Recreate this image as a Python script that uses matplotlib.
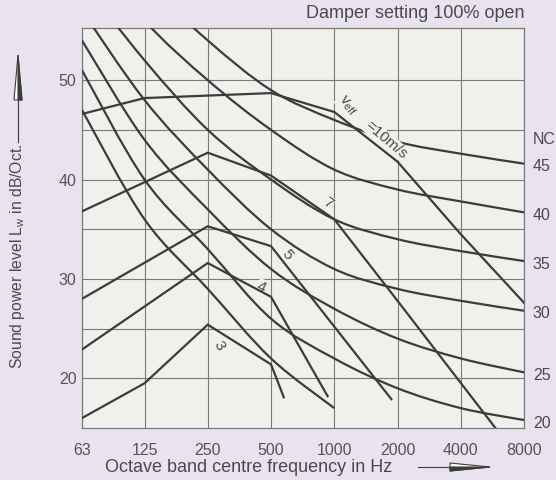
import numpy as np
import matplotlib
matplotlib.use('Agg')
import matplotlib.pyplot as plt
from matplotlib.path import Path
from matplotlib.patches import PathPatch, Polygon
from matplotlib.lines import Line2D
from matplotlib.ticker import NullLocator

# octave bands
freqs = [63, 125, 250, 500, 1000, 2000, 4000, 8000]
freq_labels = ['63', '125', '250', '500', '1000', '2000', '4000', '8000']

# NC curves (dB per octave band), NC 15 stops at 1000 Hz
nc_names = [15, 20, 25, 30, 35, 40, 45]
nc15 = [47, 36, 29, 22, 17]
nc20 = [51, 40, 33, 26, 22, 19, 17, 15.8]
nc25 = [54, 44, 37, 31, 27, 24, 22, 20.6]
nc30 = [57, 48, 41, 35, 31, 29, 27.8, 26.8]
nc35 = [60, 52, 45, 40, 36, 34, 32.8, 31.8]
nc40 = [64, 56, 50, 45, 41, 39, 37.8, 36.7]
nc45 = [67, 60, 54, 49, 46, 43.8, 42.6, 41.6]

# sound power lines for v_eff = 3, 4, 5, 7, 10 m/s
v3_f = [63, 125, 250, 500, 575]
v3_db = [16.0, 19.5, 25.4, 21.4, 18.1]
v4_f = [63, 250, 500, 930]
v4_db = [22.9, 31.6, 28.2, 18.2]
v5_f = [63, 250, 500, 1870]
v5_db = [28.0, 35.3, 33.3, 17.9]
v7_f = [63, 250, 500, 1000, 2000, 5850]
v7_db = [36.8, 42.7, 40.4, 36.0, 27.8, 15.0]
v10_f = [63, 125, 500, 1000, 2000, 4000, 8000]
v10_db = [46.6, 48.2, 48.7, 46.8, 41.8, 34.5, 27.6]

line_col = '#3c3c3c'
grid_col = '#7a7a7a'
text_col = '#4a4a4a'
fig_bg = '#e8e3ef'
ax_bg = '#f0f0ec'

plt.rcParams['font.family'] = ['Liberation Sans', 'DejaVu Sans']


def smooth_curve(f, db):
    # cubic bezier through the read points (catmull-rom in log f)
    u = np.log2(np.asarray(f, float))
    v = np.asarray(db, float)
    pts = np.column_stack([u, v])
    verts = [pts[0]]
    codes = [Path.MOVETO]
    n = len(pts)
    for i in range(n - 1):
        p0 = pts[max(i - 1, 0)]
        p1 = pts[i]
        p2 = pts[i + 1]
        p3 = pts[min(i + 2, n - 1)]
        verts += [p1 + (p2 - p0) / 6, p2 - (p3 - p1) / 6, p2]
        codes += [Path.CURVE4] * 3
    verts = np.array(verts)
    verts[:, 0] = 2 ** verts[:, 0]
    return Path(verts, codes)


fig = plt.figure(figsize=(5.56, 4.8), dpi=100, facecolor=fig_bg)
ax = fig.add_axes([82 / 556, 52 / 480, 442 / 556, 400 / 480])
ax.set_facecolor(ax_bg)

ax.set_xscale('log', base=2)
ax.set_xlim(63, 8000)
ax.set_ylim(15, 55.25)
ax.set_xticks(freqs)
ax.set_xticklabels(freq_labels)
ax.xaxis.set_minor_locator(NullLocator())
ax.set_yticks([20, 30, 40, 50])
ax.set_yticks([25, 35, 45], minor=True)
ax.grid(which='both', color=grid_col, lw=0.8, zorder=1)
ax.set_axisbelow(True)
ax.tick_params(which='both', length=0, labelsize=11.5, colors='#555555')
ax.tick_params(axis='x', pad=11)
ax.tick_params(axis='y', pad=4)
for s in ax.spines.values():
    s.set_color(grid_col)
    s.set_linewidth(0.9)

# NC curves
nc_curves = [nc15, nc20, nc25, nc30, nc35, nc40, nc45]
for name, vals in zip(nc_names, nc_curves):
    p = PathPatch(smooth_curve(freqs[:len(vals)], vals), fill=False,
                  edgecolor=line_col, lw=1.6, zorder=3)
    ax.add_patch(p)
    if name >= 20:
        ax.text(1.02, vals[-1] - 0.3, str(name), transform=ax.get_yaxis_transform(),
                ha='left', va='center', fontsize=11.5, color=text_col, clip_on=False)
ax.text(1.02, 44.0, 'NC', transform=ax.get_yaxis_transform(), ha='left',
        va='center', fontsize=11.5, color=text_col, clip_on=False)

# velocity lines
for f, db in [(v3_f, v3_db), (v4_f, v4_db), (v5_f, v5_db), (v7_f, v7_db), (v10_f, v10_db)]:
    ax.plot(f, db, color=line_col, lw=1.6, zorder=5, solid_joinstyle='miter')

lab = dict(color=text_col, ha='center', va='center', zorder=4,
           bbox=dict(facecolor=ax_bg, edgecolor='none', pad=0.5))
ax.text(283, 23.3, '3', fontsize=11, rotation=-60, **lab)
ax.text(451, 29.2, '4', fontsize=11, rotation=-25, **lab)
ax.text(597, 32.4, '5', fontsize=11, rotation=-50, **lab)
ax.text(933, 37.6, '7', fontsize=11, rotation=-35, **lab)
ax.text(1150, 47.4, r'$\mathregular{v_{eff}}$', fontsize=11, rotation=-50, **lab)
ax.text(1760, 44.0, '=10m/s', fontsize=11, rotation=-40, **lab)

# titles / axis labels
fig.text(525 / 556, 1 - 13 / 480, 'Damper setting 100% open', ha='right', va='center',
         fontsize=13, color=text_col)
fig.text(249 / 556, 1 - 467 / 480, 'Octave band centre frequency in Hz', ha='center',
         va='center', fontsize=13, color=text_col)
fig.text(18 / 556, 1 - 256 / 480, r'Sound power level L$\mathregular{_w}$ in dB/Oct.',
         rotation=90, ha='center', va='center', fontsize=11.3, color=text_col)

# arrows next to the axis labels (figure pixels -> fraction)
W, H = 556.0, 480.0
def fx(x):
    return x / W
def fy(y):
    return 1 - y / H

fig.add_artist(Line2D([fx(18), fx(18)], [fy(142), fy(98)], color=line_col, lw=0.8))
fig.add_artist(Polygon([(fx(14), fy(100)), (fx(18), fy(55)), (fx(22), fy(100))],
                       closed=True, facecolor='white', edgecolor=line_col, lw=0.8))
fig.add_artist(Polygon([(fx(18), fy(100)), (fx(18), fy(55)), (fx(22), fy(100))],
                       closed=True, facecolor=line_col, edgecolor=line_col, lw=0.8))

fig.add_artist(Line2D([fx(418), fx(452)], [fy(467), fy(467)], color=line_col, lw=0.8))
fig.add_artist(Polygon([(fx(450), fy(463)), (fx(490), fy(467)), (fx(450), fy(471))],
                       closed=True, facecolor='white', edgecolor=line_col, lw=0.8))
fig.add_artist(Polygon([(fx(450), fy(467)), (fx(490), fy(467)), (fx(450), fy(471))],
                       closed=True, facecolor=line_col, edgecolor=line_col, lw=0.8))

fig.savefig('out.png', dpi=100, facecolor=fig_bg)
